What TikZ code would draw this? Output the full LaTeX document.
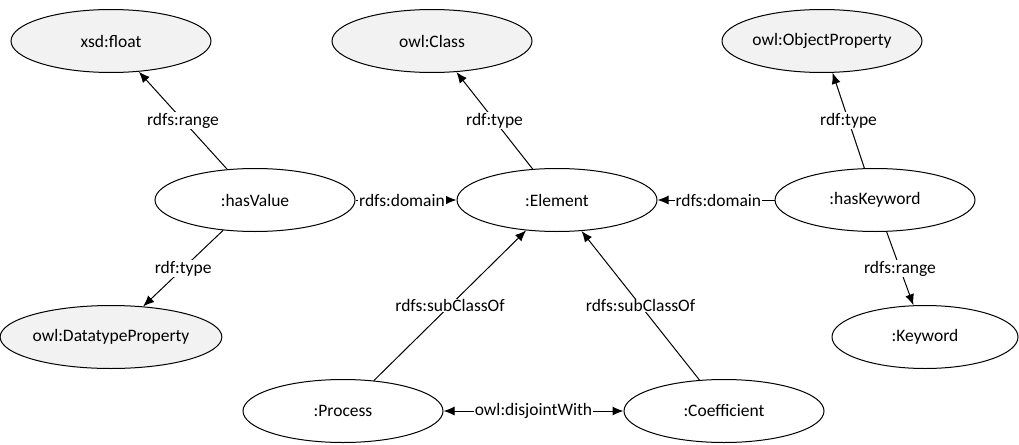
\documentclass[tikz,border=0pt]{standalone}
\usepackage{fontspec}
\setmainfont{Carlito}
\usetikzlibrary{arrows.meta,shapes.geometric}
\begin{document}
\begin{tikzpicture}[x=1pt,y=-1pt,
  every node/.style={font=\fontsize{17.5}{20}\selectfont},
  ell/.style={draw=black,line width=1pt,ellipse,minimum width=200pt,minimum height=63pt,inner sep=0pt},
  cls/.style={ell,fill=gray!10},
  inst/.style={ell,fill=white},
  tip/.style={Latex[length=11pt,width=9pt]},
  arr/.style={line width=1pt,-{Latex[length=11pt,width=9pt]}},
  darr/.style={line width=1pt,{Latex[length=11pt,width=9pt]}-{Latex[length=11pt,width=9pt]}},
  lbl/.style={fill=white,inner sep=0.8pt,pos=0.5}
]
\useasboundingbox (0,0) rectangle (1019,444);
\node[cls] (xsd) at (111,41) {xsd:float};
\node[cls] (cls) at (432,41) {owl:Class};
\node[cls] (op) at (822,41) {owl:ObjectProperty};
\node[inst] (hv) at (255,200) {:hasValue};
\node[inst] (el) at (557,200) {:Element};
\node[inst] (hk) at (875,200) {:hasKeyword};
\node[cls] (dp) at (111,337) {owl:DatatypeProperty};
\node[inst,minimum width=186pt] (kw) at (925,337) {:Keyword};
\node[inst] (pr) at (343,411) {:Process};
\node[inst] (co) at (724,411) {:Coefficient};

\draw[arr] (hv) -- node[lbl]{rdfs:range} (xsd);
\draw[arr] (hv) -- node[lbl]{rdf:type} (dp);
\draw[arr] (el) -- node[lbl]{rdf:type} (cls);
\draw[arr] (hk) -- node[lbl]{rdf:type} (op);
\draw[arr] (hk) -- node[lbl]{rdfs:range} (kw);
\draw[arr] (hv) -- node[lbl,pos=0.46]{rdfs:domain} (el);
\draw[arr] (hk) -- node[lbl,pos=0.48]{rdfs:domain} (el);
\draw[arr] (pr) -- node[lbl]{rdfs:subClassOf} (el);
\draw[arr] (co) -- node[lbl]{rdfs:subClassOf} (el);
\draw[darr] (pr) -- node[lbl]{owl:disjointWith} (co);
\end{tikzpicture}
\end{document}
